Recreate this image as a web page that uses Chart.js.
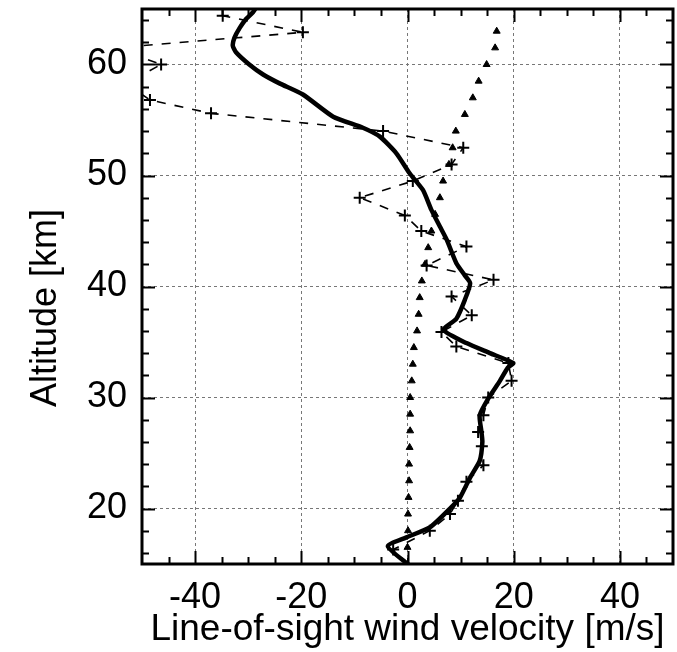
<!DOCTYPE html>
<html lang="en">

<head>
    <meta charset="UTF-8">
    <title>Line-of-sight wind velocity</title>
    <script src="https://cdn.jsdelivr.net/npm/chart.js"></script>
    <style>
        body {
            margin: 0;
            background: #fff;
        }

        .box {
            width: 677px;
            height: 652px;
        }
    </style>
</head>

<body>
    <div class="box">
        <canvas id="myChart" width="677" height="652"></canvas>
    </div>

    <script>
        // smoothed profile (thick solid line)
        const meanAlt = [15.0, 16.6, 17.4, 18.3, 20.0, 21.0, 22.8, 24.3, 26.0, 27.0, 28.4, 29.9, 31.5, 32.7, 33.1,
            34.0, 34.9, 36.1, 37.1, 38.8, 40.3, 41.0, 42.1, 44.2, 45.4, 46.9, 48.7, 50.2, 52.0, 53.5, 54.3,
            55.3, 57.3, 58.3, 59.1, 60.0, 61.1, 61.7, 62.4, 63.3, 64.1, 64.7, 65.2];
        const meanVel = [0.0, -3.7, -0.2, 4.2, 8.0, 9.9, 11.8, 13.6, 14.1, 13.9, 13.6, 15.2, 17.4, 18.9, 19.9,
            15.5, 11.1, 6.8, 9.2, 10.8, 11.8, 10.8, 9.2, 7.4, 6.1, 4.5, 2.9, 0.4, -2.1, -5.2, -8.4,
            -14.0, -19.7, -24.1, -27.2, -29.8, -32.3, -32.9, -32.6, -31.6, -30.4, -29.1, -28.4];

        // single measurements (dashed line with crosses)
        const measAlt = [15.0, 16.3, 18.0, 19.5, 20.7, 22.4, 23.9, 25.6, 26.9, 28.4, 30.0, 31.5, 33.1, 34.6,
            35.9, 37.4, 39.1, 40.6, 41.9, 43.6, 45.0, 46.4, 48.0, 49.5, 51.0, 52.5, 54.0, 55.6, 56.8,
            58.3, 60.0, 61.5, 62.9, 64.4];
        const measVel = [0.1, -2.7, 4.2, 8.0, 9.5, 11.1, 14.3, 14.0, 13.3, 14.3, 15.2, 19.6, 19.0, 9.2,
            6.4, 12.1, 8.3, 16.2, 3.6, 11.1, 2.6, -0.5, -9.0, 1.0, 8.3, 10.5, -4.6, -37.0, -48.5,
            -53.0, -46.4, -55.0, -19.7, -34.8];

        // model profile (triangles)
        const modelAlt = [15.0, 16.5, 18.0, 19.5, 21.0, 22.5, 24.0, 25.5, 27.0, 28.5, 30.0, 31.5, 33.0, 34.5,
            36.0, 37.5, 39.0, 40.5, 42.0, 43.5, 45.0, 46.5, 48.0, 49.5, 51.0, 52.5, 54.0, 55.5, 57.0,
            58.5, 60.0, 61.5, 63.0];
        const modelVel = [0.0, 0.0, 0.1, 0.1, 0.2, 0.3, 0.3, 0.4, 0.5, 0.5, 0.5, 0.8, 1.0, 1.2,
            1.8, 2.1, 2.3, 2.7, 3.3, 3.9, 4.5, 5.2, 6.1, 6.7, 7.8, 8.5, 9.1, 10.8, 12.3,
            13.4, 14.9, 16.5, 16.8];

        const xTicks = [-40, -20, 0, 20, 40];
        const yTicks = [20, 30, 40, 50, 60];

        const xMin = -50, xMax = 50, yMin = 15, yMax = 65;
        const fontFamily = "'Liberation Sans', Arial, sans-serif";

        function toPoints(xs, ys) {
            return xs.map((x, i) => ({ x: x, y: ys[i] }));
        }

        // inward ticks on all four sides, frame and y title
        const framePlugin = {
            id: 'frame',
            afterDraw(chart) {
                const ctx = chart.ctx;
                const a = chart.chartArea;
                const xs = chart.scales.x;
                const ys = chart.scales.y;
                ctx.save();
                ctx.strokeStyle = '#000';
                ctx.lineWidth = 2;
                for (let v = -45; v <= 45; v += 5) {
                    const px = Math.round(xs.getPixelForValue(v)) + 0.5;
                    const len = v % 20 === 0 ? 13 : 7;
                    ctx.beginPath();
                    ctx.moveTo(px, a.bottom);
                    ctx.lineTo(px, a.bottom - len);
                    ctx.moveTo(px, a.top);
                    ctx.lineTo(px, a.top + len);
                    ctx.stroke();
                }
                for (let v = 16; v <= 64; v += 2) {
                    const py = Math.round(ys.getPixelForValue(v)) + 0.5;
                    const len = v % 10 === 0 ? 13 : 7;
                    ctx.beginPath();
                    ctx.moveTo(a.left, py);
                    ctx.lineTo(a.left + len, py);
                    ctx.moveTo(a.right, py);
                    ctx.lineTo(a.right - len, py);
                    ctx.stroke();
                }
                ctx.lineWidth = 3;
                ctx.strokeRect(a.left, a.top, a.right - a.left, a.bottom - a.top);

                ctx.fillStyle = '#000';
                ctx.font = '36px ' + fontFamily;
                ctx.textAlign = 'center';
                ctx.textBaseline = 'middle';
                ctx.translate(46, 308);
                ctx.rotate(-Math.PI / 2);
                ctx.fillText('Altitude [km]', 0, 0);
                ctx.restore();
            }
        };

        const canvas = document.getElementById('myChart');
        const ctx = canvas.getContext('2d');

        const chart = new Chart(ctx, {
            type: 'line',
            data: {
                datasets: [{
                    label: 'mean',
                    data: toPoints(meanVel, meanAlt),
                    borderColor: '#000',
                    borderWidth: 4.5,
                    pointRadius: 0,
                    tension: 0.2,
                    order: 0
                }, {
                    label: 'single',
                    data: toPoints(measVel, measAlt),
                    borderColor: '#000',
                    borderWidth: 1.6,
                    borderDash: [9, 9],
                    pointStyle: 'cross',
                    pointRadius: 6,
                    pointBorderWidth: 2,
                    pointBorderColor: '#000',
                    order: 1
                }, {
                    label: 'model',
                    data: toPoints(modelVel, modelAlt),
                    showLine: false,
                    pointStyle: 'triangle',
                    pointRadius: 4,
                    pointBackgroundColor: '#000',
                    pointBorderColor: '#000',
                    pointBorderWidth: 1,
                    order: 2
                }]
            },
            options: {
                responsive: false,
                animation: false,
                events: [],
                layout: {
                    autoPadding: false,
                    padding: { left: 0, right: 4, top: 9, bottom: 0 }
                },
                scales: {
                    x: {
                        type: 'linear',
                        min: xMin,
                        max: xMax,
                        afterBuildTicks: function (scale) {
                            scale.ticks = xTicks.map(v => ({ value: v }));
                        },
                        afterFit: function (scale) {
                            scale.height = 88;
                            scale.paddingLeft = 0;
                            scale.paddingRight = 0;
                        },
                        grid: {
                            color: '#777',
                            lineWidth: 1,
                            drawTicks: false
                        },
                        border: {
                            display: false,
                            dash: [3, 3]
                        },
                        ticks: {
                            padding: 12,
                            color: '#000',
                            maxRotation: 0,
                            font: { family: fontFamily, size: 36 }
                        },
                        title: {
                            display: true,
                            text: 'Line-of-sight wind velocity [m/s]',
                            color: '#000',
                            padding: { top: 0, bottom: 0 },
                            font: { family: fontFamily, size: 37 }
                        }
                    },
                    y: {
                        type: 'linear',
                        min: yMin,
                        max: yMax,
                        afterBuildTicks: function (scale) {
                            scale.ticks = yTicks.map(v => ({ value: v }));
                        },
                        afterFit: function (scale) {
                            scale.width = 142;
                            scale.paddingTop = 0;
                            scale.paddingBottom = 0;
                        },
                        grid: {
                            color: '#777',
                            lineWidth: 1,
                            drawTicks: false
                        },
                        border: {
                            display: false,
                            dash: [3, 3]
                        },
                        ticks: {
                            padding: 15,
                            color: '#000',
                            font: { family: fontFamily, size: 36 }
                        }
                    }
                },
                plugins: {
                    legend: { display: false },
                    tooltip: { enabled: false }
                }
            },
            plugins: [framePlugin]
        });
    </script>

</body>

</html>
